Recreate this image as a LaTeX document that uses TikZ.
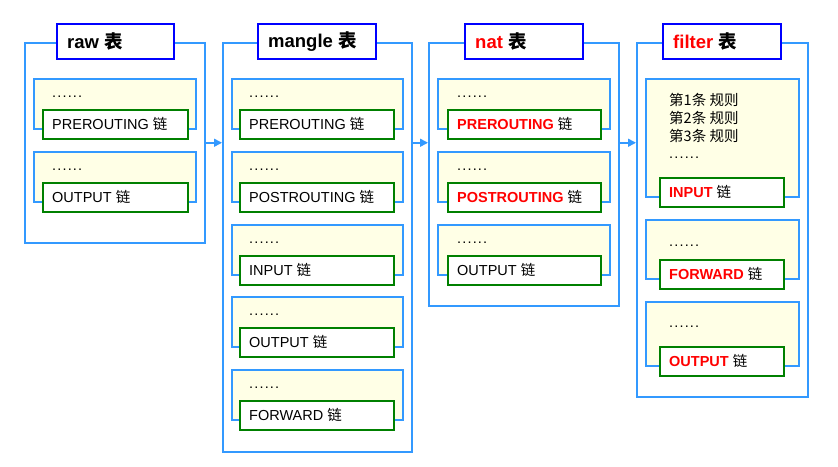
\documentclass[tikz,border=0pt]{standalone}
\usepackage{fontspec}
\setmainfont{Liberation Sans}
\newfontfamily\cjk{Noto Sans CJK SC}
\usetikzlibrary{arrows.meta}

\definecolor{tblue}{RGB}{51,153,255}
\definecolor{tgreen}{RGB}{0,128,0}
\definecolor{chainfill}{RGB}{255,255,230}

\newcommand{\lian}{{\cjk 链}}
\newcommand{\biao}{{\cjk\bfseries 表}}
\newcommand{\hot}[1]{\textcolor{red}{\bfseries #1}}

% table frame with its title
% #1 name, #2 x, #3 width, #4 height, #5 title x, #6 title width, #7 title
\newcommand{\Table}[7]{%
  \node[tablebox, minimum width=#3, minimum height=#4] (#1) at (#2,42) {};
  \node[titlebox, minimum width=#6] (#1-title) at (#5,23) {};
  \node[titletxt, anchor=west] (#1-name) at ([xshift=11]#1-title.west) {#7};
}

% chain box with its name box
% #1 name, #2 x, #3 top, #4 width, #5 height, #6 name x, #7 name width, #8 dots, #9 text
\newcommand{\Chain}[9]{%
  \node[chainbg, minimum width=#4, minimum height=#5] (#1) at (#2,#3) {};
  \node[namebox, minimum width=#7] (#1-box) at (#6,#3+#5-19) {};
  \node[txt, anchor=west] (#1-name) at ([xshift=10]#1-box.west) {#9};
  \node[txt, anchor=base west] (#1-dots) at (#6+10,#8) {\addfontfeature{LetterSpace=8}......};
}

\begin{document}
\begin{tikzpicture}[x=1pt,y=-1pt,
  tablebox/.style={draw=tblue, line width=1.5pt, anchor=north west, inner sep=0},
  titlebox/.style={draw=blue, fill=white, line width=1.5pt, anchor=north west,
                   minimum height=35, inner sep=0},
  chainbg/.style={draw=tblue, fill=chainfill, line width=1.5pt, anchor=north west, inner sep=0},
  namebox/.style={draw=tgreen, fill=white, line width=1.5pt, anchor=north west,
                  minimum height=29, inner sep=0},
  txt/.style={font=\fontsize{14.5}{17}\selectfont, inner sep=0},
  titletxt/.style={font=\fontsize{18.5}{22}\selectfont\bfseries, inner sep=0},
  flow/.style={draw=tblue, line width=1.5pt, -{Triangle[length=8pt,width=8pt]}}]

  \useasboundingbox (0,0) rectangle (838,466);

  \Table{raw}{24}{180}{200}{56}{117}{raw \biao}
  \Table{mangle}{222}{189}{409}{257}{118}{mangle \biao}
  \Table{nat}{428}{190}{263}{464}{118}{\hot{nat} \biao}
  \Table{filter}{636}{171}{354}{662}{118}{\hot{filter} \biao}

  % raw
  \Chain{raw-pre}{33}{78}{162}{50}{42}{145}{97}{PREROUTING \lian}
  \Chain{raw-out}{33}{151}{162}{50}{42}{145}{170}{OUTPUT \lian}

  % mangle
  \Chain{mangle-pre}{231}{78}{171}{50}{239}{154}{97}{PREROUTING \lian}
  \Chain{mangle-post}{231}{151}{171}{50}{239}{154}{170}{POSTROUTING \lian}
  \Chain{mangle-in}{231}{224}{171}{50}{239}{154}{243}{INPUT \lian}
  \Chain{mangle-out}{231}{296}{171}{50}{239}{154}{315}{OUTPUT \lian}
  \Chain{mangle-fwd}{231}{369}{171}{50}{239}{154}{388}{FORWARD \lian}

  % nat
  \Chain{nat-pre}{437}{78}{172}{50}{447}{153}{97}{\hot{PREROUTING} \lian}
  \Chain{nat-post}{437}{151}{172}{50}{447}{153}{170}{\hot{POSTROUTING} \lian}
  \Chain{nat-out}{437}{224}{172}{50}{447}{153}{243}{OUTPUT \lian}

  % filter
  \Chain{filter-in}{645}{78}{153}{118}{659}{124}{158}{\hot{INPUT} \lian}
  \Chain{filter-fwd}{645}{219}{153}{59}{659}{124}{246}{\hot{FORWARD} \lian}
  \Chain{filter-out}{645}{301}{153}{64}{659}{124}{327}{\hot{OUTPUT} \lian}

  \node[txt, anchor=base west] (rule1) at (669,105) {\cjk 第1条 规则};
  \node[txt, anchor=base west] (rule2) at (669,123) {\cjk 第2条 规则};
  \node[txt, anchor=base west] (rule3) at (669,141) {\cjk 第3条 规则};

  \draw[flow] (raw.east) -- (raw.east -| mangle.west);
  \draw[flow] (raw.east -| mangle.east) -- (raw.east -| nat.west);
  \draw[flow] (raw.east -| nat.east) -- (raw.east -| filter.west);

\end{tikzpicture}
\end{document}
